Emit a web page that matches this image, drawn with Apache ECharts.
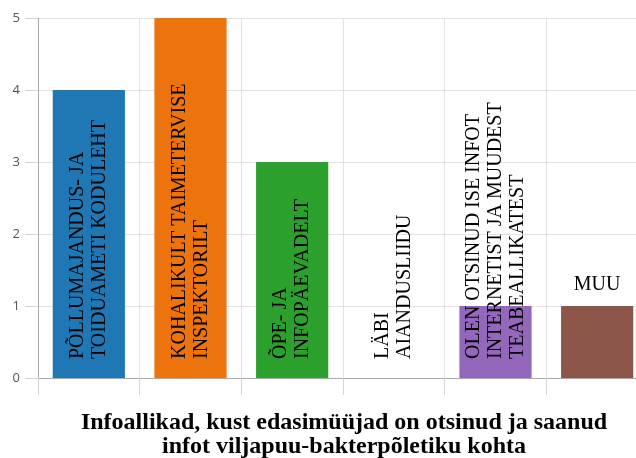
<!DOCTYPE html>
<html>
<head>
<meta charset="utf-8">
<script src="https://cdn.jsdelivr.net/npm/echarts@6/dist/echarts.min.js"></script>
<style>
  html, body { margin: 0; padding: 0; background: #fff; }
  #chart { width: 636px; height: 458px; }
</style>
</head>
<body>
<div id="chart"></div>
<script>
// Information sources named by resellers (number of answers)
const categories = [
  'PÕLLUMAJANDUS- JA\nTOIDUAMETI KODULEHT',
  'KOHALIKULT TAIMETERVISE\nINSPEKTORILT',
  'ÕPE- JA\nINFOPÄEVADELT',
  'LÄBI\nAIANDUSLIIDU',
  'OLEN OTSINUD ISE INFOT\nINTERNETIST JA MUUDEST\nTEABEALLIKATEST',
  'MUU'
];
const counts = [4, 5, 3, 0, 1, 1];
const barColors = ['#1f77b4', '#ed730c', '#2ca02c', '#d62728', '#9467bd', '#8c564b'];
// Bars whose caption sits horizontally above the bar instead of rotated inside it
const captionAbove = ['MUU'];
const yTicks = [0, 1, 2, 3, 4, 5];
const chartTitle = 'Infoallikad, kust edasimüüjad on otsinud ja saanud\ninfot viljapuu-bakterpõletiku kohta';

const serif = '"Liberation Serif", "Times New Roman", serif';

const barData = counts.map((v, i) => {
  const item = { value: v, itemStyle: { color: barColors[i] } };
  if (captionAbove.includes(categories[i])) {
    item.label = {
      position: 'top',
      rotate: 0,
      align: 'center',
      verticalAlign: 'bottom',
      distance: 10
    };
  }
  return item;
});

const chart = echarts.init(document.getElementById('chart'), null, { renderer: 'canvas' });
chart.setOption({
  animation: false,
  title: {
    text: chartTitle,
    left: 339,
    top: 406,
    textAlign: 'center',
    textStyle: {
      fontFamily: serif,
      fontWeight: 'bold',
      fontSize: 24,
      lineHeight: 24,
      color: '#000'
    }
  },
  // the plot runs a little past the right edge of the canvas
  grid: { left: 38, top: 18, width: 610, height: 360, containLabel: false, outerBoundsMode: 'none' },
  xAxis: {
    type: 'category',
    data: categories,
    boundaryGap: true,
    axisLine: { show: true, lineStyle: { color: '#aaaaaa', width: 1 } },
    axisTick: { show: true, interval: 0, length: 17, lineStyle: { color: '#d6d6d6' } },
    axisLabel: { show: false },
    splitLine: { show: true, interval: 0, lineStyle: { color: '#e2e2e2' } }
  },
  yAxis: {
    type: 'value',
    min: yTicks[0],
    max: yTicks[yTicks.length - 1],
    interval: 1,
    axisLine: { show: true, lineStyle: { color: '#aaaaaa' } },
    axisTick: { show: true, length: 13, lineStyle: { color: '#d6d6d6' } },
    axisLabel: {
      margin: 18,
      fontFamily: '"Open Sans", sans-serif',
      fontSize: 13,
      color: '#555'
    },
    splitLine: { show: true, lineStyle: { color: '#e2e2e2' } }
  },
  series: [{
    type: 'bar',
    data: barData,
    barCategoryGap: '29%',
    label: {
      show: true,
      formatter: '{b}',
      position: 'insideBottom',
      rotate: 90,
      align: 'left',
      verticalAlign: 'middle',
      distance: 19,
      fontFamily: serif,
      fontSize: 20,
      lineHeight: 22,
      color: '#000'
    }
  }]
});
</script>
</body>
</html>
